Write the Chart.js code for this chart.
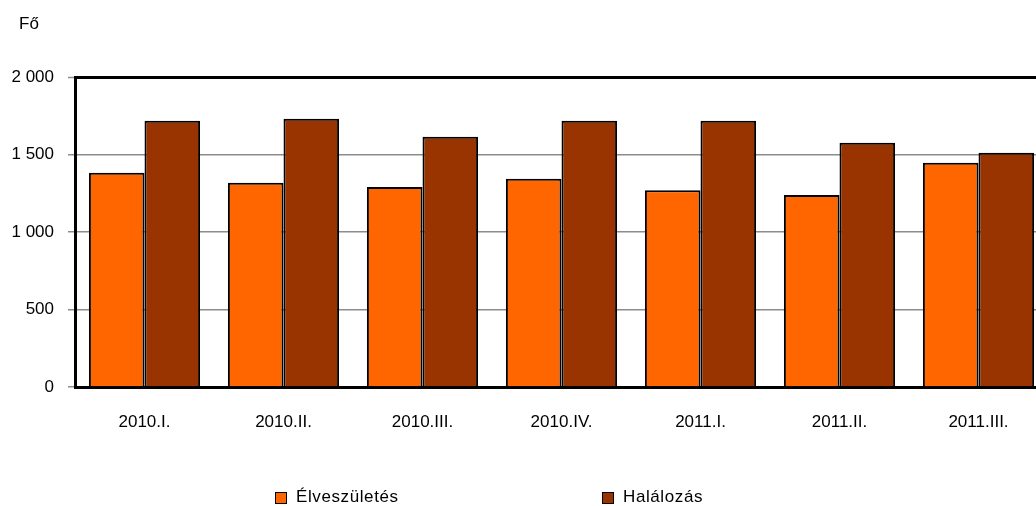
<!DOCTYPE html>
<html>
<head>
<meta charset="utf-8">
<script src="https://cdn.jsdelivr.net/npm/chart.js@4.4.0/dist/chart.umd.min.js"></script>
<style>
  html, body { margin: 0; padding: 0; background: #fff; overflow: hidden; }
  #wrap { position: relative; width: 1036px; height: 506px; overflow: hidden; font-family: "Liberation Sans", Arial, sans-serif; }
  #box { position: absolute; left: 0; top: 0; width: 1050px; height: 506px; }
  #unit { position: absolute; left: 19px; top: 14px; font-size: 17px; color: #000; }
  .leg { position: absolute; top: 487px; font-size: 17px; color: #000; white-space: nowrap; letter-spacing: 0.6px; }
  .leg span { display: inline-block; width: 10px; height: 10px; border: 1.5px solid #000; margin-right: 9px; vertical-align: -2px; }
</style>
</head>
<body>
<div id="wrap">
  <div id="box"><canvas id="chart"></canvas></div>
  <div id="unit">Fő</div>
  <div class="leg" style="left:275px"><span id="sw0"></span><b id="lg0" style="font-weight:normal"></b></div>
  <div class="leg" style="left:602px"><span id="sw1"></span><b id="lg1" style="font-weight:normal"></b></div>
</div>
<script>
// Adatok
const negyedevek = ['2010.I.', '2010.II.', '2010.III.', '2010.IV.', '2011.I.', '2011.II.', '2011.III.'];
const elveszuletes = [1383, 1318, 1290, 1344, 1269, 1239, 1447];
const halalozas = [1718, 1731, 1615, 1718, 1718, 1576, 1512];
const sorozatNevek = ['Élveszületés', 'Halálozás'];
const szinek = ['#ff6600', '#993300'];
const yTicks = [0, 500, 1000, 1500, 2000];

// Jelmagyarázat
sorozatNevek.forEach((nev, i) => {
    document.getElementById('lg' + i).textContent = nev;
    document.getElementById('sw' + i).style.background = szinek[i];
});

const betu = { family: '"Liberation Sans", Arial, sans-serif', size: 17 };

new Chart(document.getElementById('chart').getContext('2d'), {
    type: 'bar',
    data: {
        labels: negyedevek,
        datasets: [
            { label: sorozatNevek[0], data: elveszuletes, backgroundColor: szinek[0], borderColor: '#000', borderWidth: 2 },
            { label: sorozatNevek[1], data: halalozas, backgroundColor: szinek[1], borderColor: '#000', borderWidth: 2 }
        ]
    },
    options: {
        responsive: true,
        maintainAspectRatio: false,
        animation: false,
        layout: { padding: { top: 77, right: 2, left: 0, bottom: 0 } },
        plugins: { legend: { display: false }, tooltip: { enabled: false } },
        datasets: { bar: { categoryPercentage: 0.8, barPercentage: 1 } },
        scales: {
            x: {
                grid: { display: false },
                border: { color: '#000', width: 3 },
                ticks: { color: '#000', font: betu, padding: 17, maxRotation: 0 },
                afterFit: s => { s.height = 119; }
            },
            y: {
                min: 0,
                max: 2000,
                afterBuildTicks: s => { s.ticks = yTicks.map(v => ({ value: v })); },
                grid: {
                    color: c => (c.tick && c.tick.value === 2000) ? '#000' : '#8c8c8c',
                    lineWidth: c => (c.tick && c.tick.value === 2000) ? 3 : 1.5,
                    tickColor: '#8c8c8c',
                    tickWidth: 1.5,
                    tickLength: 7
                },
                border: { color: '#000', width: 3 },
                ticks: {
                    color: '#000',
                    font: betu,
                    padding: 14,
                    callback: v => String(v).replace(/\B(?=(\d{3})+(?!\d))/g, ' ')
                },
                afterFit: s => { s.width = 75; }
            }
        }
    }
});
</script>
</body>
</html>
